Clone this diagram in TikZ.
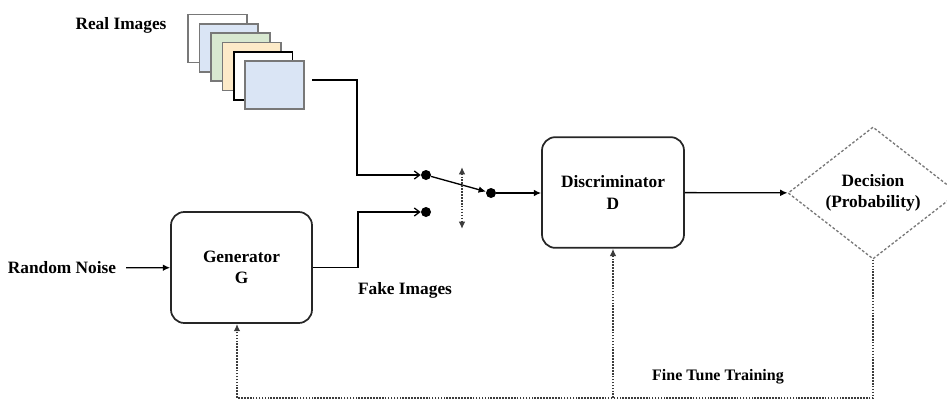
\documentclass[tikz,border=0pt]{standalone}
\usepackage{fontspec}
\setmainfont{Liberation Serif}
\usepackage{tikz}
\usetikzlibrary{shapes.geometric,arrows.meta}
\definecolor{framegray}{RGB}{120,120,120}
\definecolor{paleblue}{RGB}{218,229,245}
\definecolor{palegreen}{RGB}{216,232,208}
\definecolor{paleorange}{RGB}{253,234,200}
\definecolor{dotgray}{RGB}{60,60,60}

\begin{document}
\begin{tikzpicture}[x=0.75pt, y=-0.75pt, font=\fontsize{13}{16}\selectfont\bfseries, >={Latex[length=5.5pt,width=5pt]}]
    \tikzstyle{block} = [rectangle, rounded corners=10pt, draw=black!85, line width=1.3pt, align=center, inner sep=0pt]
    \tikzstyle{decision} = [diamond, draw=framegray, dash pattern=on 2pt off 1.5pt, line width=1pt, minimum width=127.5pt, minimum height=94.5pt, align=center, inner sep=0pt]
    \tikzstyle{frame} = [rectangle, minimum width=44pt, minimum height=36pt, line width=1.3pt, inner sep=0pt]
    \tikzstyle{contact} = [circle, fill=black, minimum size=7.5pt, inner sep=0pt]
    \tikzstyle{wire} = [line width=1pt]
    \tikzstyle{feedback} = [draw=dotgray, line width=1.6pt, dash pattern=on 1.2pt off 1pt]

    \useasboundingbox (0,0) rectangle (947,401);

    % Real image stack
    \foreach \c/\d [count=\i] in {white/framegray, paleblue/framegray, palegreen/framegray, paleorange/framegray, white/black, paleblue/framegray}
        \node [frame, fill=\c, draw=\d] (img\i) at ({217.5+11.4*(\i-1)}, {38.5+9.3*(\i-1)}) {};
    \node (realtxt) at (121,25) {Real Images};

    % Main blocks
    \node [block, minimum width=105.75pt, minimum height=83.25pt] (gen) at (241.5,267.5) {Generator\\G};
    \node [block, minimum width=106.5pt, minimum height=83pt] (disc) at (613,192.5) {Discriminator\\D};
    \node [decision] (dec) at (873,193) {Decision\\(Probability)};

    % Labels
    \node (noise) at (62,268) {Random Noise};
    \node (fake) at (405,290) {Fake Images};
    \node (tune) at (718,377) {\fontsize{12}{14}\selectfont Fine Tune Training};

    % Switch
    \node [contact] (real_in) at (426,175) {};
    \node [contact] (fake_in) at (426,212) {};
    \node [contact] (sw_out) at (491,193) {};
    \coordinate (sw_top) at (462,167);
    \coordinate (sw_bot) at (462,229);
    \coordinate (real_out) at (312,80);

    % Feedback corners
    \coordinate (fb_right) at (873,398);
    \coordinate (fb_mid) at (613,398);
    \coordinate (fb_left) at (237,398);

    % Connections
    \draw [wire, -{Straight Barb[length=4pt,width=6pt]}] (real_out) -- ++(45,0) |- (real_in);
    \draw [wire, -{Straight Barb[length=4pt,width=6pt]}] (gen.east) -- ++(45,0) |- (fake_in);
    \draw [wire, ->] (real_in) -- (sw_out);
    \draw [feedback, <->] (sw_top) -- (sw_bot);
    \draw [wire, ->] (sw_out) -- (sw_out -| disc.west);
    \draw [wire, ->] (disc) -- (dec);
    \draw [wire, ->, shorten <=4pt] (noise) -- (gen);

    \draw [feedback, ->] (dec.south) -- (fb_right) -- (fb_left) -- (fb_left |- gen.south);
    \draw [feedback, ->] (fb_mid) -- (disc.south);
\end{tikzpicture}
\end{document}
